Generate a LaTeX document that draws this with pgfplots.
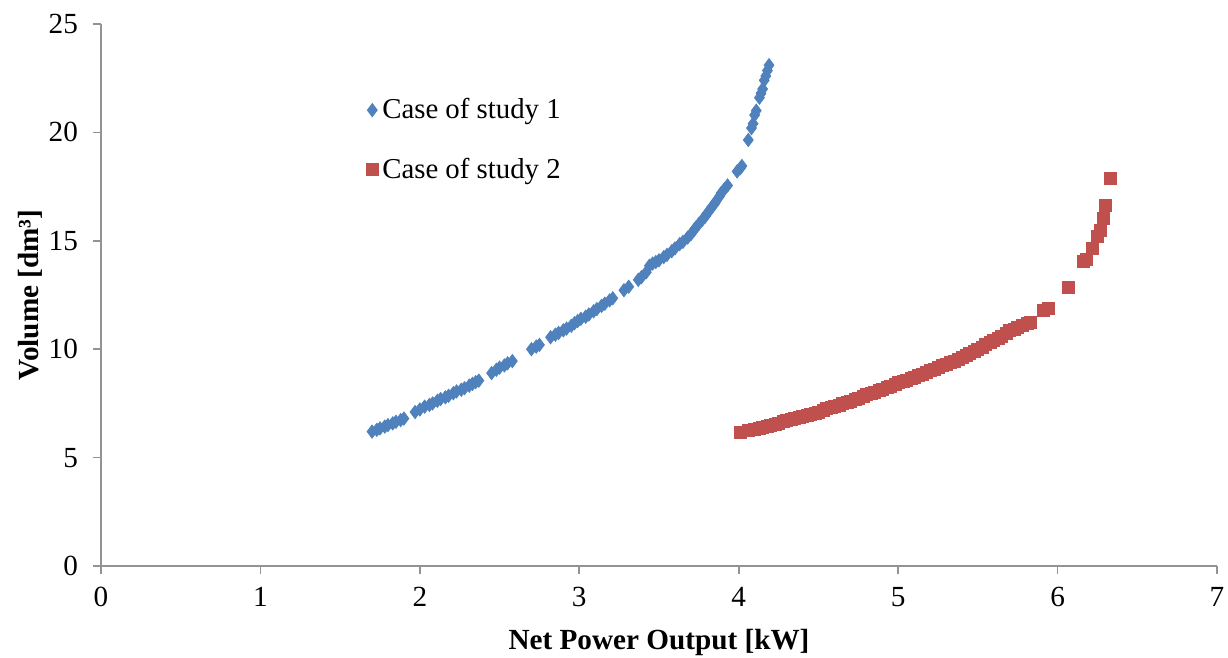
\documentclass[border=0pt]{standalone}
\usepackage{pgfplots}
\pgfplotsset{compat=1.18}
\usepackage{fontspec}
\setmainfont{Liberation Serif}
\definecolor{s1}{HTML}{4F81BD}
\definecolor{s2}{HTML}{C0504D}
\begin{document}
\begin{tikzpicture}
\begin{axis}[
  scale only axis,
  width=558pt, height=271pt,
  xmin=0, xmax=7, ymin=0, ymax=25,
  xtick={0,1,...,7}, ytick={0,5,...,25},
  axis x line*=bottom, axis y line*=left,
  axis line style={draw=gray!85, line width=0.8pt},
  tick style={draw=gray!85, line width=0.8pt},
  tick align=outside, major tick length=4pt,
  /pgf/number format/assume math mode=true,
  tick label style={font=\fontsize{14.6}{17}\selectfont},
  xticklabel style={yshift=-3pt},
  yticklabel style={xshift=-4pt},
  xlabel={\textbf{Net Power Output [kW]}},
  ylabel={\textbf{Volume [dm³]}},
  label style={font=\fontsize{14.6}{17}\selectfont},
  xlabel style={yshift=-4.5pt},
  ylabel style={yshift=-3.5pt},
  legend style={draw=none, fill=none, at={(0.232,0.878)}, anchor=north west,
    font=\fontsize{14.4}{17}\selectfont, row sep=14pt},
  legend cell align=left,
  clip=false,
]
\addplot[only marks, mark=diamond*, mark size=3.3pt, color=s1, mark options={fill=s1, draw=s1}] coordinates {
(1.70,6.20) (1.73,6.28) (1.75,6.35) (1.78,6.43) (1.80,6.50) (1.83,6.58) (1.85,6.65) (1.88,6.73) (1.90,6.80)
(1.97,7.10) (2.00,7.22) (2.03,7.35) (2.06,7.43) (2.08,7.50) (2.11,7.62) (2.13,7.70) (2.16,7.78) (2.18,7.85)
(2.21,7.97) (2.23,8.05) (2.26,8.13) (2.28,8.20) (2.31,8.32) (2.33,8.40) (2.35,8.48) (2.37,8.55)
(2.45,8.90) (2.48,9.05) (2.50,9.15) (2.53,9.25) (2.55,9.35) (2.58,9.45)
(2.70,10.00) (2.73,10.12) (2.75,10.20)
(2.82,10.55) (2.85,10.67) (2.87,10.75) (2.90,10.87) (2.92,10.95) (2.95,11.08) (2.97,11.20) (2.99,11.30)
(3.01,11.40) (3.04,11.50) (3.06,11.60) (3.09,11.75) (3.11,11.85) (3.14,12.00) (3.16,12.10) (3.19,12.25) (3.21,12.35)
(3.28,12.72) (3.31,12.88)
(3.37,13.20) (3.39,13.32) (3.42,13.55) (3.44,13.85) (3.46,13.95) (3.48,14.02) (3.50,14.10)
(3.53,14.25) (3.55,14.35) (3.58,14.52) (3.60,14.65) (3.63,14.85) (3.65,14.95) (3.68,15.15) (3.70,15.30)
(3.72,15.50) (3.73,15.60) (3.75,15.78) (3.77,15.95) (3.79,16.12) (3.80,16.25) (3.82,16.42) (3.83,16.55)
(3.85,16.72) (3.86,16.85) (3.88,17.05) (3.89,17.20) (3.91,17.38) (3.93,17.55)
(3.99,18.20) (4.01,18.35) (4.02,18.45)
(4.06,19.65) (4.08,20.20) (4.09,20.40) (4.10,20.80) (4.11,21.00) (4.13,21.60) (4.14,21.80) (4.15,22.00)
(4.16,22.40) (4.17,22.60) (4.18,22.85) (4.19,23.10)
};
\addlegendentry{Case of study 1}
\addplot[only marks, mark=square*, mark size=3pt, color=s2, mark options={fill=s2, draw=s2}] coordinates {
(4.01,6.15) (4.06,6.25) (4.10,6.30) (4.13,6.36) (4.15,6.40) (4.18,6.45) (4.20,6.50) (4.23,6.55) (4.25,6.60)
(4.28,6.65) (4.30,6.70) (4.33,6.75) (4.35,6.80) (4.38,6.85) (4.40,6.90) (4.43,6.95) (4.45,7.00) (4.48,7.05)
(4.50,7.10) (4.53,7.18) (4.55,7.25) (4.58,7.30) (4.60,7.35) (4.63,7.43) (4.65,7.50) (4.68,7.55) (4.70,7.60)
(4.73,7.68) (4.75,7.75) (4.78,7.83) (4.80,7.90) (4.83,7.95) (4.85,8.00) (4.88,8.08) (4.90,8.15) (4.93,8.23)
(4.95,8.30) (4.98,8.38) (5.00,8.45) (5.03,8.50) (5.05,8.55) (5.08,8.63) (5.10,8.70) (5.13,8.78) (5.15,8.85)
(5.18,8.93) (5.20,9.00) (5.23,9.08) (5.25,9.15) (5.28,9.23) (5.30,9.30) (5.33,9.38) (5.35,9.45) (5.38,9.53)
(5.40,9.60) (5.43,9.70) (5.45,9.80) (5.48,9.90) (5.50,10.00) (5.53,10.10) (5.55,10.20) (5.58,10.30)
(5.60,10.40) (5.63,10.50) (5.65,10.60) (5.68,10.72) (5.70,10.85) (5.73,10.92) (5.75,11.00) (5.78,11.10)
(5.81,11.20) (5.83,11.25) (5.91,11.80) (5.94,11.90)
(6.07,12.85) (6.16,14.05) (6.18,14.15) (6.22,14.65) (6.25,15.20) (6.27,15.50) (6.29,16.05) (6.30,16.65) (6.33,17.90)
};
\addlegendentry{Case of study 2}
\end{axis}
\pgfresetboundingbox
\path ([shift={(-50.5pt,-45.5pt)}]current axis.south west) rectangle ([shift={(5.5pt,12pt)}]current axis.north east);
\end{tikzpicture}
\end{document}
